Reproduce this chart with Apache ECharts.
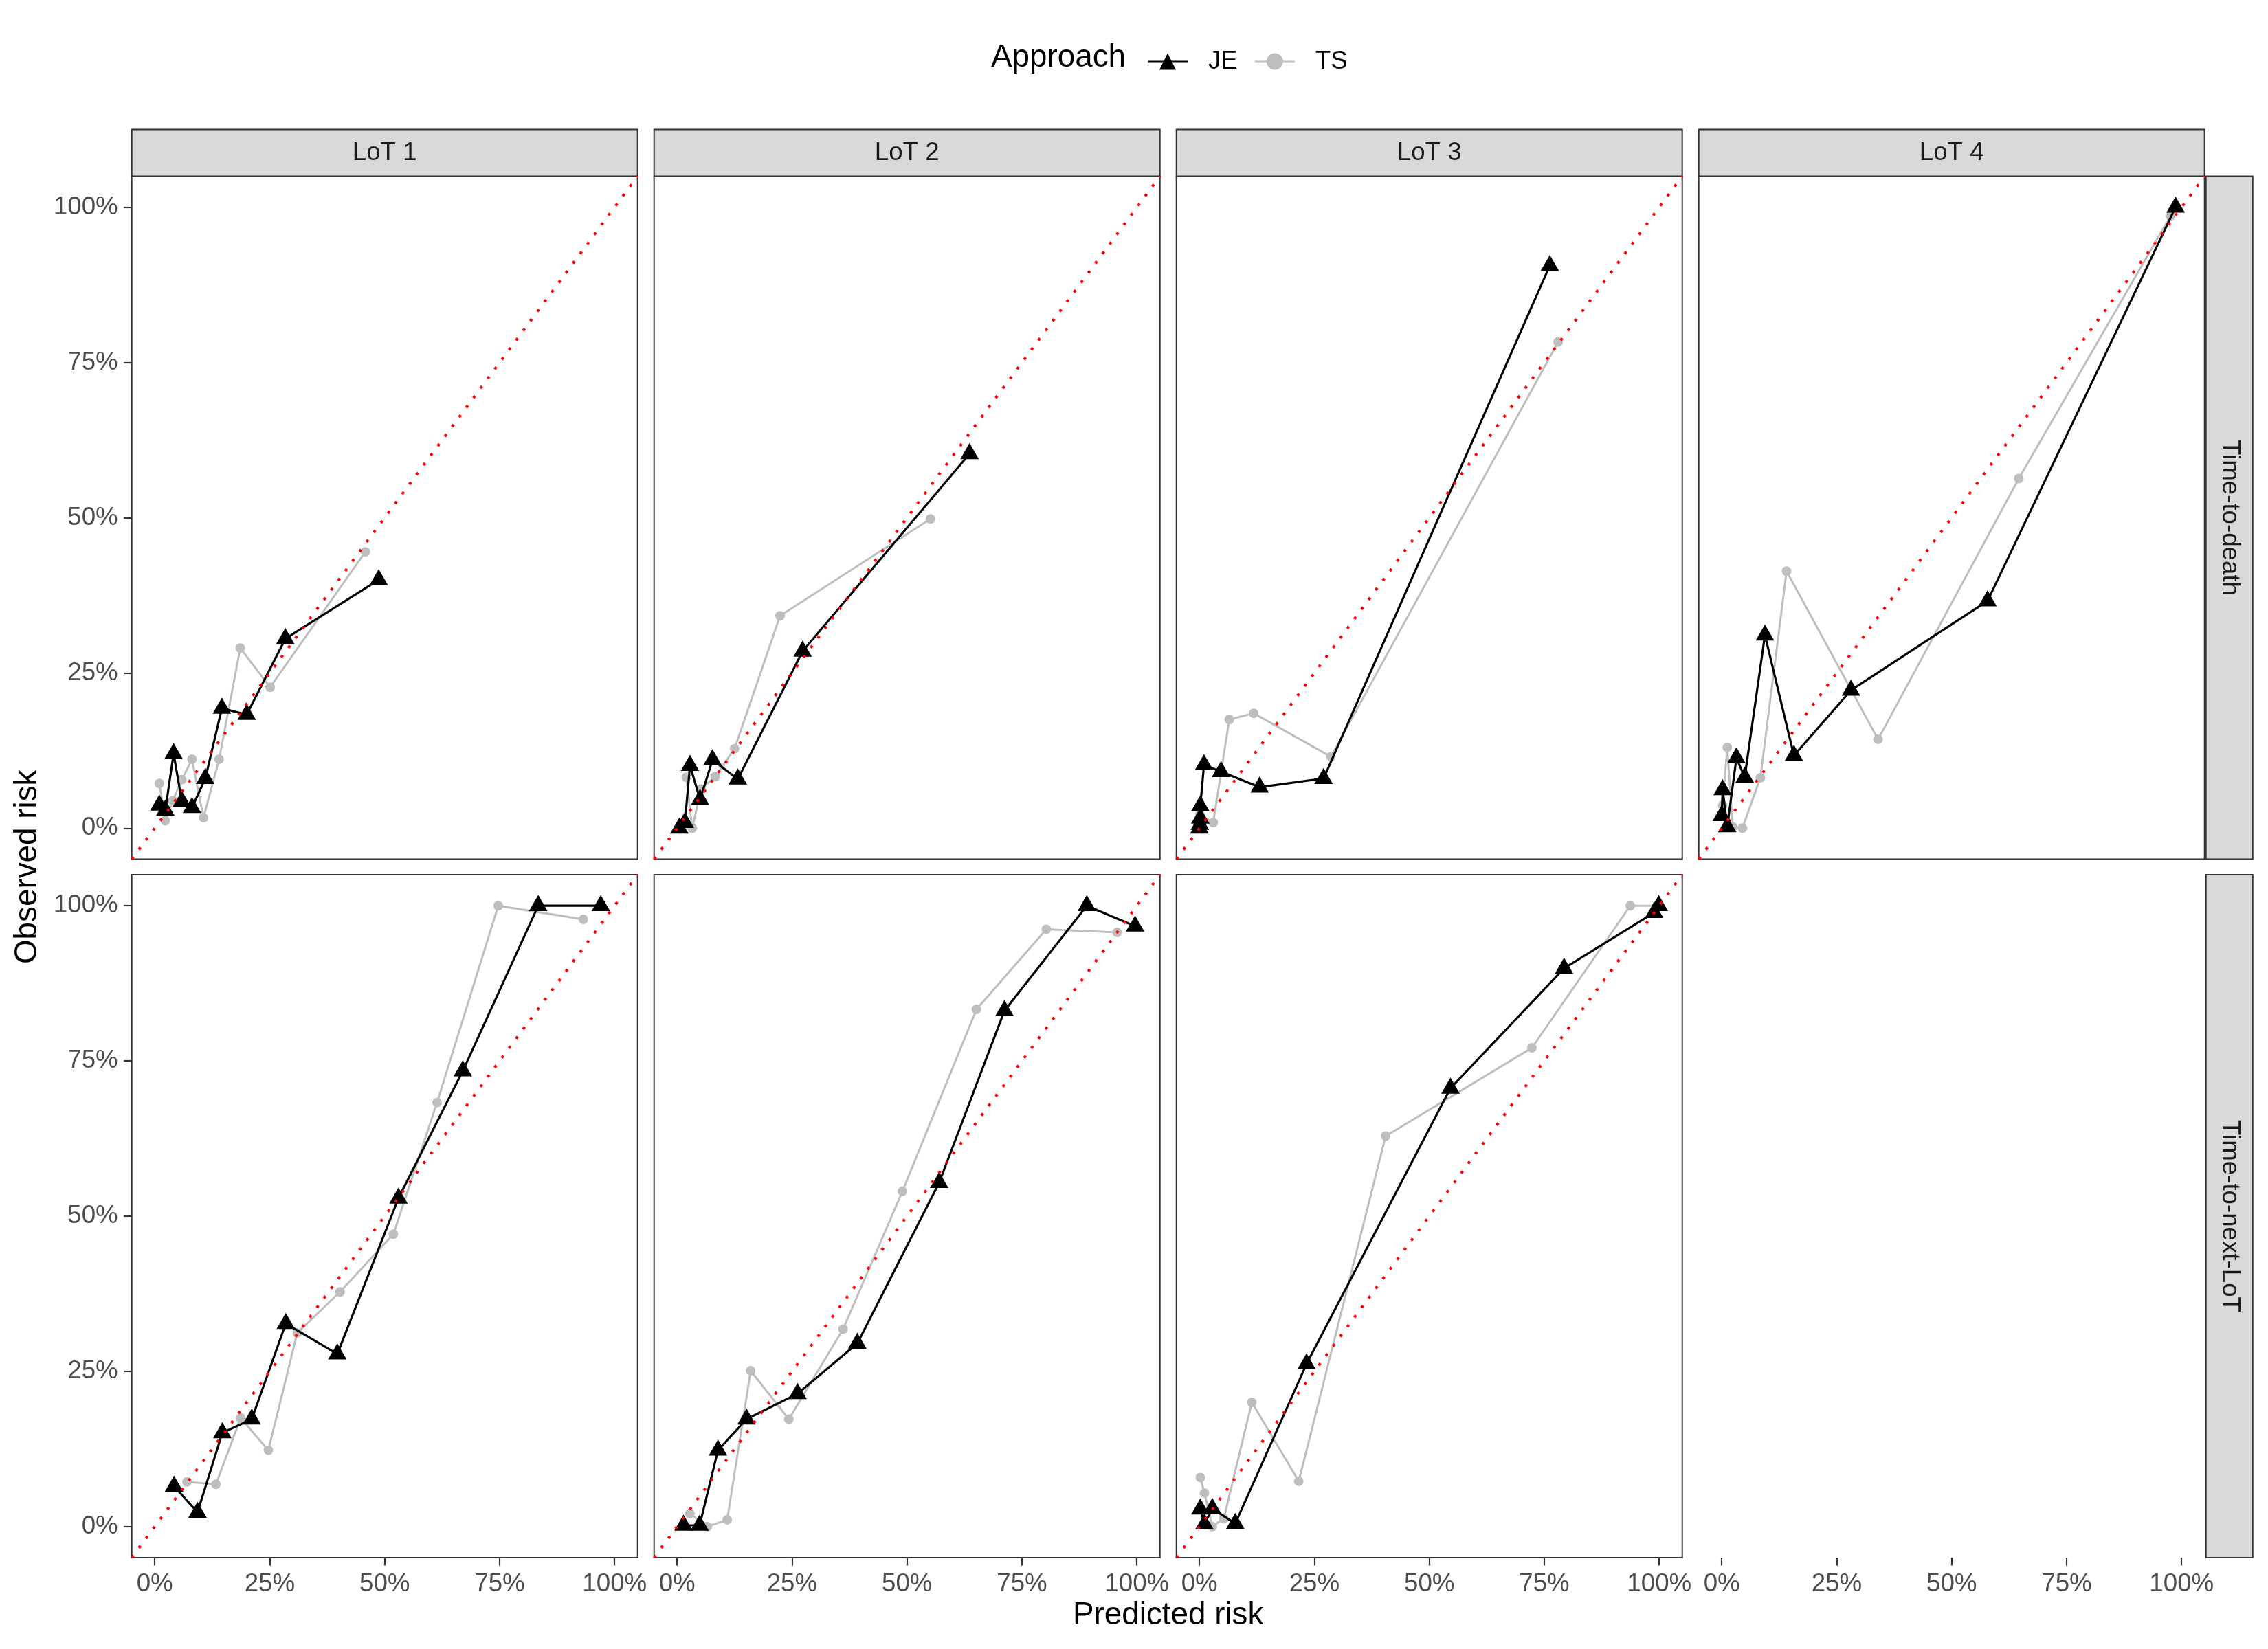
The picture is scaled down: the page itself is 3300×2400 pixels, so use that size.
<!DOCTYPE html>
<html><head><meta charset="utf-8">
<script src="https://cdn.jsdelivr.net/npm/echarts@6/dist/echarts.min.js"></script>
<style>html,body{margin:0;padding:0;background:#fff}#c{width:3300px;height:2400px}</style>
</head><body><div id="c"></div>
<script>
// ---------- data ----------
const lots = ['LoT 1', 'LoT 2', 'LoT 3', 'LoT 4'];
const outcomes = ['Time-to-death', 'Time-to-next-LoT'];
const approaches = ['JE', 'TS'];
const tickValues = [0, 0.25, 0.5, 0.75, 1];
const tickLabels = ['0%', '25%', '50%', '75%', '100%'];
const diagonal = [[-0.05, -0.05], [1.05, 1.05]];

// [predicted, observed]
const je_death_lot1 = [[0.010,0.037],[0.023,0.029],[0.041,0.120],[0.059,0.043],[0.081,0.033],[0.110,0.080],[0.146,0.193],[0.200,0.183],[0.284,0.305],[0.487,0.400]];
const ts_death_lot1 = [[0.010,0.072],[0.023,0.012],[0.039,0.044],[0.059,0.078],[0.081,0.111],[0.106,0.017],[0.140,0.111],[0.186,0.290],[0.251,0.227],[0.458,0.445]];
const je_death_lot2 = [[0.005,0.000],[0.017,0.009],[0.028,0.101],[0.050,0.046],[0.077,0.110],[0.132,0.079],[0.273,0.285],[0.636,0.603]];
const ts_death_lot2 = [[0.020,0.082],[0.033,0.000],[0.052,0.063],[0.083,0.083],[0.125,0.128],[0.224,0.342],[0.551,0.498]];
const je_death_lot3 = [[0.000,0.000],[0.001,0.006],[0.002,0.016],[0.002,0.036],[0.010,0.102],[0.047,0.091],[0.131,0.066],[0.270,0.080],[0.762,0.906]];
const ts_death_lot3 = [[0.001,0.022],[0.030,0.009],[0.065,0.175],[0.118,0.185],[0.286,0.115],[0.780,0.783]];
const je_death_lot4 = [[0.000,0.020],[0.002,0.062],[0.012,0.002],[0.032,0.113],[0.050,0.082],[0.094,0.311],[0.157,0.117],[0.281,0.222],[0.578,0.366],[0.987,1.000]];
const ts_death_lot4 = [[0.002,0.037],[0.012,0.130],[0.024,0.002],[0.045,0.000],[0.084,0.081],[0.141,0.414],[0.340,0.143],[0.646,0.563],[0.976,0.986]];
const je_next_lot1 = [[0.042,0.065],[0.093,0.023],[0.147,0.151],[0.211,0.173],[0.285,0.327],[0.397,0.278],[0.530,0.529],[0.670,0.734],[0.834,1.000],[0.970,1.000]];
const ts_next_lot1 = [[0.070,0.072],[0.133,0.068],[0.187,0.175],[0.247,0.123],[0.310,0.312],[0.403,0.378],[0.519,0.471],[0.614,0.683],[0.747,1.000],[0.932,0.978]];
const je_next_lot2 = [[0.014,0.002],[0.049,0.002],[0.089,0.123],[0.151,0.173],[0.262,0.214],[0.392,0.295],[0.570,0.554],[0.712,0.831],[0.891,1.000],[0.996,0.967]];
const ts_next_lot2 = [[0.028,0.021],[0.066,0.000],[0.109,0.011],[0.160,0.251],[0.243,0.173],[0.361,0.318],[0.490,0.540],[0.651,0.833],[0.803,0.962],[0.957,0.957]];
const je_next_lot3 = [[0.002,0.028],[0.011,0.004],[0.028,0.029],[0.078,0.005],[0.233,0.262],[0.546,0.706],[0.793,0.899],[0.989,0.989],[0.999,1.000]];
const ts_next_lot3 = [[0.002,0.079],[0.011,0.054],[0.028,0.000],[0.053,0.013],[0.114,0.200],[0.216,0.073],[0.405,0.629],[0.723,0.771],[0.937,1.000],[0.995,1.000]];

const panels = [
  {row:0, col:0, je:je_death_lot1, ts:ts_death_lot1},
  {row:0, col:1, je:je_death_lot2, ts:ts_death_lot2},
  {row:0, col:2, je:je_death_lot3, ts:ts_death_lot3},
  {row:0, col:3, je:je_death_lot4, ts:ts_death_lot4},
  {row:1, col:0, je:je_next_lot1, ts:ts_next_lot1},
  {row:1, col:1, je:je_next_lot2, ts:ts_next_lot2},
  {row:1, col:2, je:je_next_lot3, ts:ts_next_lot3}
];

// ---------- layout ----------
const FONT = "'Liberation Sans', Arial, Helvetica, sans-serif";
const COL_LEFT = [191.7, 951.7, 1711.7, 2471.7];
const PW = 736;
const ROW_TOP = [256.5, 1273];
const PH = 994;
const STRIP = 68;
const AX_COLOR = '#333333';
const LAB_COLOR = '#4D4D4D';
const TICK_FS = 36.7;

function fmt(v) {
  const i = tickValues.indexOf(v);
  return i >= 0 ? tickLabels[i] : Math.round(v * 100) + '%';
}

function axis(gridIndex, show) {
  return {type: 'value', gridIndex: gridIndex, min: -0.05, max: 1.05,
    axisLine: {show: false, onZero: false}, splitLine: {show: false},
    axisTick: {show: show, customValues: tickValues, length: 11.5, lineStyle: {color: AX_COLOR, width: 2.2}},
    axisLabel: {show: show, customValues: tickValues, formatter: fmt, color: LAB_COLOR, fontSize: TICK_FS, fontFamily: FONT, margin: 20}};
}

const grids = [], xAxes = [], yAxes = [], series = [];
panels.forEach((p, i) => {
  grids.push({left: COL_LEFT[p.col], top: ROW_TOP[p.row], width: PW, height: PH,
    show: true, borderColor: AX_COLOR, borderWidth: 2, backgroundColor: '#fff', containLabel: false});
  xAxes.push(Object.assign(axis(i, p.row === 1), {position: 'bottom'}));
  yAxes.push(Object.assign(axis(i, p.col === 0), {position: 'left'}));
  series.push({name: 'TS', type: 'line', xAxisIndex: i, yAxisIndex: i, data: p.ts,
    symbol: 'circle', symbolSize: 14, itemStyle: {color: '#BEBEBE'},
    lineStyle: {color: '#BEBEBE', width: 3}, z: 2, animation: false});
  series.push({name: 'JE', type: 'line', xAxisIndex: i, yAxisIndex: i, data: p.je,
    symbol: 'triangle', symbolSize: [27, 23.5], symbolOffset: [0, -3.9], itemStyle: {color: '#000000'},
    lineStyle: {color: '#000000', width: 3.2}, z: 3, animation: false});
  series.push({name: 'diag', type: 'line', xAxisIndex: i, yAxisIndex: i, data: diagonal,
    symbol: 'none', silent: true, lineStyle: {color: '#FF0000', width: 4, type: [4, 13.4]}, z: 4, animation: false});
});

// bottom axis under the empty LoT 4 / Time-to-next-LoT cell
const gi = panels.length;
grids.push({left: COL_LEFT[3], top: ROW_TOP[1], width: PW, height: PH, show: false});
xAxes.push(Object.assign(axis(gi, true), {position: 'bottom'}));
yAxes.push({type: 'value', gridIndex: gi, min: -0.05, max: 1.05, show: false});
series.push({name: 'empty', type: 'line', xAxisIndex: gi, yAxisIndex: gi, data: [], silent: true});

// strips and titles
const graphics = [];
lots.forEach((l, c) => {
  graphics.push({type: 'rect', shape: {x: COL_LEFT[c], y: ROW_TOP[0] - STRIP, width: PW, height: STRIP},
    style: {fill: '#D9D9D9', stroke: AX_COLOR, lineWidth: 2}});
  graphics.push({type: 'text', x: COL_LEFT[c] + PW / 2, y: ROW_TOP[0] - STRIP / 2,
    style: {text: l, fill: '#1A1A1A', font: TICK_FS + 'px ' + FONT, textAlign: 'center', textVerticalAlign: 'middle'}});
});
outcomes.forEach((o, r) => {
  const sx = COL_LEFT[3] + PW + 2;
  graphics.push({type: 'rect', shape: {x: sx, y: ROW_TOP[r], width: STRIP, height: PH},
    style: {fill: '#D9D9D9', stroke: AX_COLOR, lineWidth: 2}});
  graphics.push({type: 'text', x: sx + STRIP / 2, y: ROW_TOP[r] + PH / 2, rotation: -Math.PI / 2,
    style: {text: o, fill: '#1A1A1A', font: TICK_FS + 'px ' + FONT, textAlign: 'center', textVerticalAlign: 'middle'}});
});
graphics.push({type: 'text', x: 40, y: (ROW_TOP[0] + ROW_TOP[1] + PH) / 2, rotation: Math.PI / 2,
  style: {text: 'Observed risk', fill: '#000', font: '45.8px ' + FONT, textAlign: 'center', textVerticalAlign: 'middle'}});
graphics.push({type: 'text', x: (COL_LEFT[0] + COL_LEFT[3] + PW) / 2, y: 2351,
  style: {text: 'Predicted risk', fill: '#000', font: '45.8px ' + FONT, textAlign: 'center', textVerticalAlign: 'middle'}});
graphics.push({type: 'text', x: 1442, y: 84,
  style: {text: 'Approach', fill: '#000', font: '45.8px ' + FONT, textAlign: 'left', textVerticalAlign: 'middle'}});

const chart = echarts.init(document.getElementById('c'), null, {renderer: 'canvas'});
chart.setOption({
  animation: false,
  backgroundColor: '#fff',
  grid: grids, xAxis: xAxes, yAxis: yAxes, series: series,
  legend: {data: approaches, left: 1664, top: 66, itemWidth: 58, itemHeight: 30, itemGap: 24,
    textStyle: {fontSize: TICK_FS, fontFamily: FONT, color: '#000', padding: [0, 0, 0, 25]}},
  graphic: graphics
});
</script></body></html>
